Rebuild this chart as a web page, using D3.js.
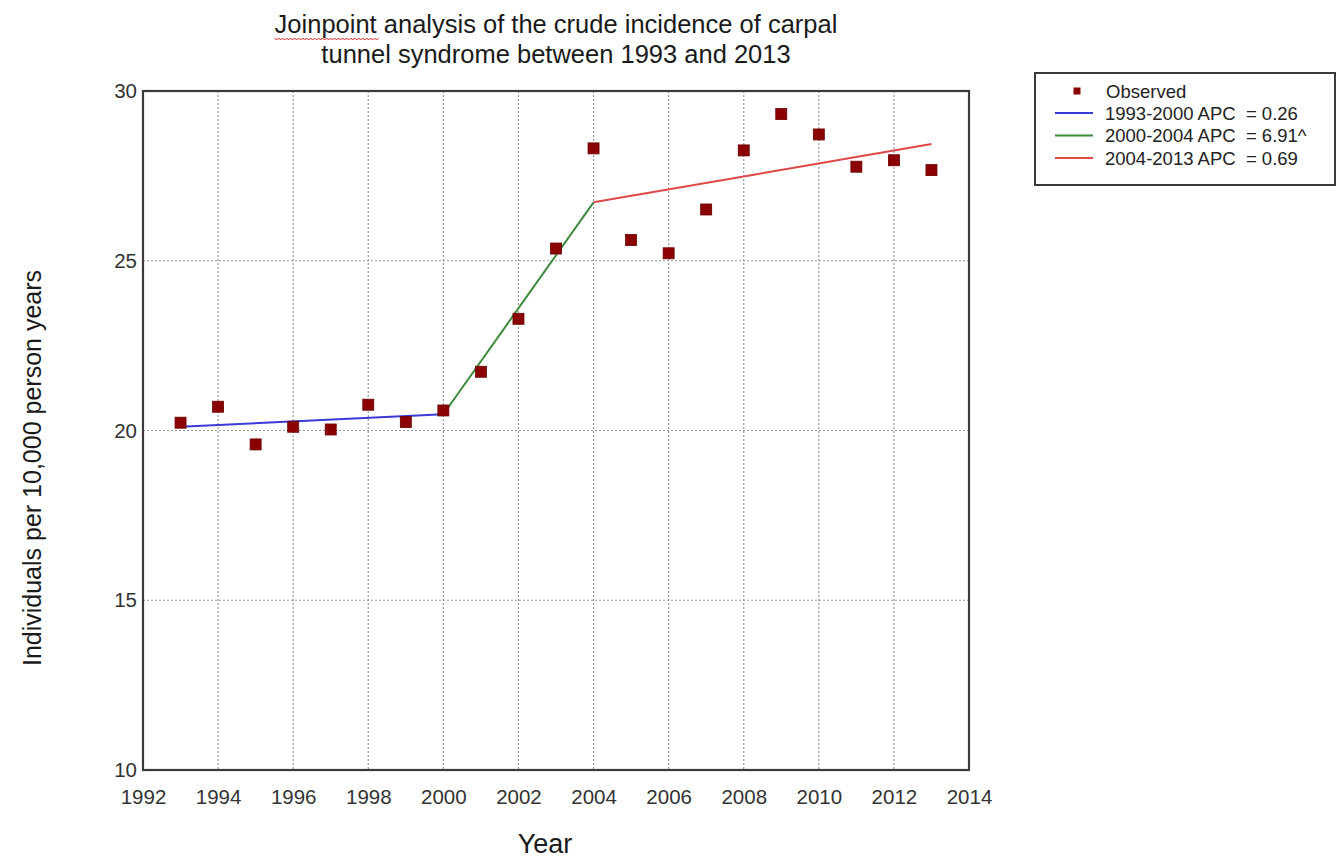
<!DOCTYPE html>
<html>
<head>
<meta charset="utf-8">
<script src="https://cdn.jsdelivr.net/npm/d3@7"></script>
<style>
  body { margin: 0; background: #fff; }
  svg { display: block; font-family: Arial, "Liberation Sans", sans-serif; }
</style>
</head>
<body>
<svg id="chart" width="1342" height="866"></svg>
<script>
// Observed crude incidence per 10,000 person years
const years = [1993, 1994, 1995, 1996, 1997, 1998, 1999, 2000, 2001, 2002, 2003,
               2004, 2005, 2006, 2007, 2008, 2009, 2010, 2011, 2012, 2013];
const observed = [20.23, 20.70, 19.59, 20.11, 20.03, 20.76, 20.25, 20.59, 21.73, 23.29, 25.36,
                  28.31, 25.61, 25.22, 26.51, 28.25, 29.32, 28.72, 27.77, 27.96, 27.67];

// Joinpoint model segments (fitted values at segment ends)
const segmentLabels = ["1993-2000 APC  = 0.26", "2000-2004 APC  = 6.91^", "2004-2013 APC  = 0.69"];
const segmentYears = [[1993, 2000], [2000, 2004], [2004, 2013]];
const segmentFits = [[20.11, 20.48], [20.48, 26.72], [26.72, 28.44]];
const segmentColors = ["#3a3ad8", "#3c8a3c", "#e04848"];

const xTicks = [1992, 1994, 1996, 1998, 2000, 2002, 2004, 2006, 2008, 2010, 2012, 2014];
const yTicks = [10, 15, 20, 25, 30];

const svg = d3.select("#chart");
const plot = { left: 143, right: 969, top: 91, bottom: 770 };

const x = d3.scaleLinear().domain([1992, 2014]).range([plot.left, plot.right]);
const y = d3.scaleLinear().domain([10, 30]).range([plot.bottom, plot.top]);

// Dotted grid
const grid = svg.append("g").attr("stroke", "#9a9a9a").attr("stroke-width", 1.2)
  .attr("stroke-dasharray", "2,2");
grid.selectAll("line.v").data(xTicks.slice(1, -1)).join("line")
  .attr("x1", d => x(d)).attr("x2", d => x(d))
  .attr("y1", plot.top).attr("y2", plot.bottom);
grid.selectAll("line.h").data(yTicks.slice(1, -1)).join("line")
  .attr("x1", plot.left).attr("x2", plot.right)
  .attr("y1", d => y(d)).attr("y2", d => y(d));

// Frame
svg.append("rect")
  .attr("x", plot.left).attr("y", plot.top)
  .attr("width", plot.right - plot.left).attr("height", plot.bottom - plot.top)
  .attr("fill", "none").attr("stroke", "#3a3a3a").attr("stroke-width", 2.2);

// Axes (labels only; the frame is drawn above)
const xAxis = svg.append("g").attr("transform", `translate(0,${plot.bottom})`)
  .call(d3.axisBottom(x).tickValues(xTicks).tickFormat(d3.format("d")).tickSize(0).tickPadding(19));
const yAxis = svg.append("g").attr("transform", `translate(${plot.left},0)`)
  .call(d3.axisLeft(y).tickValues(yTicks).tickSize(0).tickPadding(6));
[xAxis, yAxis].forEach(a => {
  a.select(".domain").remove();
  a.selectAll("text").attr("font-size", 20.5).attr("fill", "#333")
    .attr("font-family", "Arial, 'Liberation Sans', sans-serif");
});

// Fitted segments
const line = d3.line().x(d => x(d[0])).y(d => y(d[1]));
segmentYears.forEach((yrs, i) => {
  svg.append("path")
    .attr("d", line([[yrs[0], segmentFits[i][0]], [yrs[1], segmentFits[i][1]]]))
    .attr("fill", "none").attr("stroke", segmentColors[i]).attr("stroke-width", 2);
});

// Observed points
const sq = 11;
svg.append("g").selectAll("rect").data(years.map((yr, i) => [yr, observed[i]])).join("rect")
  .attr("x", d => x(d[0]) - sq / 2).attr("y", d => y(d[1]) - sq / 2)
  .attr("width", sq).attr("height", sq)
  .attr("fill", "#8b0000").attr("stroke", "#6a0000").attr("stroke-width", 0.8);

// Title
const titleSize = 25.5, titleX = 556;
const title = svg.append("text").attr("text-anchor", "middle")
  .attr("font-size", titleSize).attr("fill", "#1a1a1a");
title.append("tspan").attr("x", titleX).attr("y", 33).attr("id", "t1")
  .text("Joinpoint analysis of the crude incidence of carpal");
title.append("tspan").attr("x", titleX).attr("y", 63)
  .text("tunnel syndrome between 1993 and 2013");

// Spell-check squiggle under the first word
const tmp = svg.append("text").attr("font-size", titleSize).attr("x", 0).attr("y", -100).text("Joinpoint");
const wWord = tmp.node().getComputedTextLength();
tmp.remove();
const fullW = svg.select("#t1").node().getComputedTextLength();
const sx = titleX - fullW / 2;
let squiggle = "M" + sx + ",38";
for (let px = sx, k = 0; px < sx + wWord; px += 2, k++) {
  squiggle += " L" + (px + 2) + "," + (k % 2 === 0 ? 40 : 38);
}
svg.append("path").attr("d", squiggle).attr("fill", "none")
  .attr("stroke", "#e02020").attr("stroke-width", 1);

// Axis titles
svg.append("text").attr("x", 545).attr("y", 853).attr("text-anchor", "middle")
  .attr("font-size", 27).attr("fill", "#1a1a1a").text("Year");
svg.append("text").attr("transform", "translate(41,468) rotate(-90)")
  .attr("text-anchor", "middle").attr("font-size", 25).attr("fill", "#1a1a1a")
  .text("Individuals per 10,000 person years");

// Legend
const lg = svg.append("g");
lg.append("rect").attr("x", 1035).attr("y", 73).attr("width", 300).attr("height", 112)
  .attr("fill", "#fff").attr("stroke", "#3a3a3a").attr("stroke-width", 2);
lg.append("rect").attr("x", 1077 - 3.5).attr("y", 91 - 3.5).attr("width", 7).attr("height", 7)
  .attr("fill", "#8b0000");
lg.append("text").attr("x", 1106).attr("y", 98).attr("font-size", 18.5).attr("fill", "#222")
  .text("Observed");
segmentLabels.forEach((lab, i) => {
  const ly = 113 + i * 22.5;
  lg.append("line").attr("x1", 1055).attr("x2", 1093).attr("y1", ly).attr("y2", ly)
    .attr("stroke", segmentColors[i]).attr("stroke-width", 2);
  lg.append("text").attr("x", 1105).attr("y", ly + 6.5).attr("font-size", 18.5).attr("fill", "#222")
    .attr("xml:space", "preserve").text(lab);
});
</script>
</body>
</html>
